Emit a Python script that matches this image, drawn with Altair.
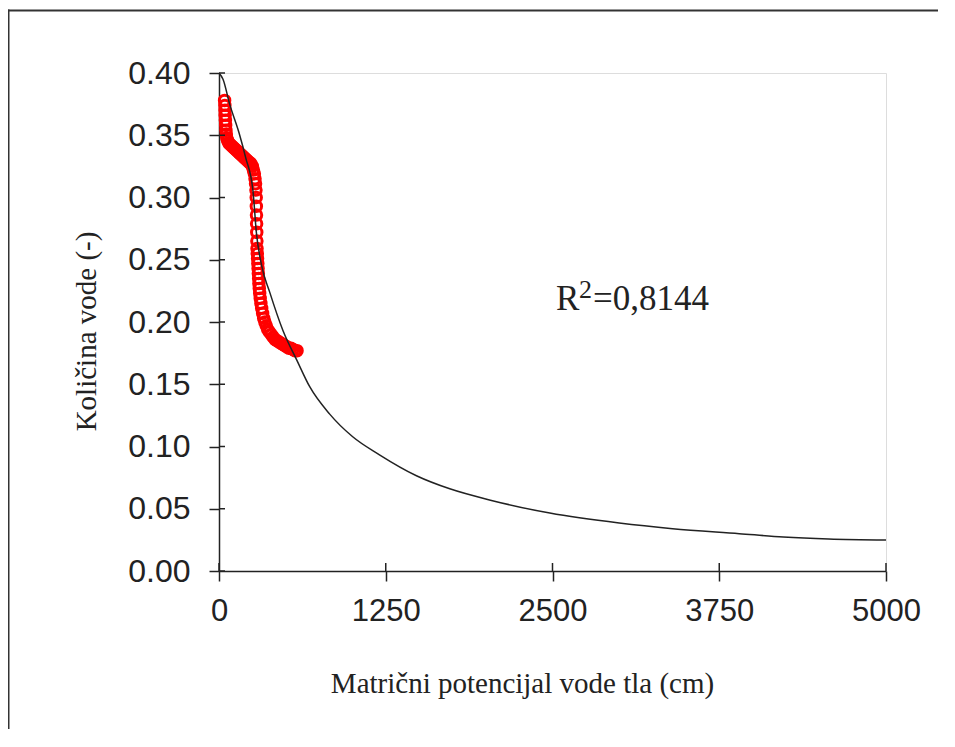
import altair as alt
import pandas as pd

# Fitted retention curve
curve_x = [0, 30, 80, 150, 200, 255, 280, 320, 380, 480, 585, 680, 830, 1000,
           1200, 1480, 1730, 2050, 2480, 3000, 3400, 3900, 4230, 4570, 5000]
curve_y = [0.400, 0.395, 0.375, 0.352, 0.332, 0.305, 0.272, 0.245, 0.224, 0.193,
           0.169, 0.148, 0.126, 0.108, 0.0935, 0.0765, 0.066, 0.0565, 0.0465, 0.0385,
           0.034, 0.030, 0.0273, 0.0257, 0.0249]

meas_x = [42, 44, 45, 46, 48, 50, 52, 55, 58, 64, 72, 80, 90, 100, 110, 120, 130,
          140, 150, 160, 170, 180, 190, 200, 210, 220, 230, 240, 250, 258, 265, 270,
          274, 277, 279, 280, 281, 282, 283, 284, 285, 287, 289, 291, 293, 295, 297,
          299, 302, 305, 309, 314, 320, 327, 335, 344, 354, 365, 378, 392, 406, 420,
          435, 450, 465, 480, 495, 510, 525, 540, 555, 570, 585]
meas_y = [0.378, 0.374, 0.370, 0.366, 0.362, 0.358, 0.354, 0.351, 0.348, 0.346,
          0.344, 0.343, 0.342, 0.341, 0.340, 0.339, 0.338, 0.337, 0.336, 0.335,
          0.334, 0.333, 0.332, 0.331, 0.330, 0.329, 0.328, 0.327, 0.325, 0.322,
          0.319, 0.315, 0.311, 0.306, 0.300, 0.293, 0.286, 0.279, 0.272, 0.265,
          0.259, 0.255, 0.251, 0.247, 0.243, 0.239, 0.235, 0.231, 0.227, 0.223,
          0.219, 0.215, 0.211, 0.207, 0.203, 0.200, 0.197, 0.194, 0.192, 0.190,
          0.188, 0.186, 0.185, 0.184, 0.183, 0.182, 0.181, 0.180, 0.179, 0.179,
          0.178, 0.177, 0.177]

x_ticks = [0, 1250, 2500, 3750, 5000]
y_ticks = [0.00, 0.05, 0.10, 0.15, 0.20, 0.25, 0.30, 0.35, 0.40]

annot_x = [2526]
annot_y = [0.2096]
annot_base = ["R"]
annot_sup = ["2"]
annot_rest = ["=0,8144"]

curve = pd.DataFrame({"x": curve_x, "y": curve_y})
meas = pd.DataFrame({"x": meas_x, "y": meas_y})
annot = pd.DataFrame({"x": annot_x, "y": annot_y, "a": annot_base,
                      "b": annot_sup, "c": annot_rest})
xt = pd.DataFrame({"v": x_ticks})
yt = pd.DataFrame({"v": y_ticks})

W, H = 667, 498
tick_font = "Liberation Sans, Arial"
title_font = "Liberation Serif, Times New Roman, serif"
ink = "#222"

xscale = alt.Scale(domain=[0, 5000], nice=False, zero=False)
yscale = alt.Scale(domain=[0, 0.4], nice=False, zero=False)

xaxis = alt.Axis(values=x_ticks, format="d", grid=False, tickSize=10, tickColor=ink,
                 domainColor=ink, domainWidth=1.5, tickWidth=1.5,
                 labelFont=tick_font, labelFontSize=31, labelColor=ink, labelPadding=15,
                 labelFlush=False,
                 title="Matrični potencijal vode tla (cm)", titleFont=title_font,
                 titleFontSize=29, titleFontWeight="normal", titleColor=ink,
                 titleX=303, titleY=121, titleAlign="center", titleBaseline="alphabetic")
yaxis = alt.Axis(values=y_ticks, format=".2f", grid=False, tickSize=10, tickColor=ink,
                 domainColor=ink, domainWidth=1.5, tickWidth=1.5,
                 labelFont=tick_font, labelFontSize=32, labelColor=ink, labelPadding=19,
                 labelFlush=False,
                 title="Količina vode (-)", titleFont=title_font,
                 titleFontSize=29, titleFontWeight="normal", titleColor=ink,
                 titleAngle=270, titleX=-124, titleY=258, titleAlign="center",
                 titleBaseline="alphabetic")

border_left = alt.Chart(alt.Data(values=[{}])).mark_rule(color="#333", strokeWidth=2).encode(
    x=alt.value(-210.5), y=alt.value(-63.5), y2=alt.value(900))
border_top = alt.Chart(alt.Data(values=[{}])).mark_rule(color="#333", strokeWidth=2).encode(
    x=alt.value(-211.5), x2=alt.value(900), y=alt.value(-62.5))

pts = alt.Chart(meas).mark_point(
    shape="circle", filled=False, color="#ff0000", size=110, strokeWidth=3, opacity=1
).encode(x=alt.X("x:Q", scale=xscale, axis=xaxis), y=alt.Y("y:Q", scale=yscale, axis=yaxis))

line = alt.Chart(curve).mark_line(color=ink, strokeWidth=1.5, interpolate="monotone").encode(
    x=alt.X("x:Q", scale=xscale), y=alt.Y("y:Q", scale=yscale))

inner_y = alt.Chart(yt).mark_rule(color=ink, strokeWidth=1.5).encode(
    y=alt.Y("v:Q", scale=yscale), x=alt.value(0), x2=alt.value(6))
inner_x = alt.Chart(xt).mark_rule(color=ink, strokeWidth=1.5).encode(
    x=alt.X("v:Q", scale=xscale), y=alt.value(H - 8), y2=alt.value(H))

base = alt.Chart(annot).encode(x=alt.X("x:Q", scale=xscale), y=alt.Y("y:Q", scale=yscale))
t1 = base.mark_text(font=title_font, fontSize=35, color=ink, align="left",
                    baseline="alphabetic").encode(text="a:N")
t2 = base.mark_text(font=title_font, fontSize=26, color=ink, align="left",
                    baseline="alphabetic", dx=23, dy=-12).encode(text="b:N")
t3 = base.mark_text(font=title_font, fontSize=35, color=ink, align="left",
                    baseline="alphabetic", dx=37).encode(text="c:N")

chart = alt.layer(border_left, border_top, pts, line, inner_y, inner_x, t1, t2, t3).properties(
    width=W, height=H,
    autosize=alt.AutoSizeParams(type="none"),
    padding={"left": 211, "top": 65, "right": 52, "bottom": 158},
).configure_view(stroke=None).configure(background="white")

chart.save("out.html", embed_options={"renderer": "svg", "actions": False})
